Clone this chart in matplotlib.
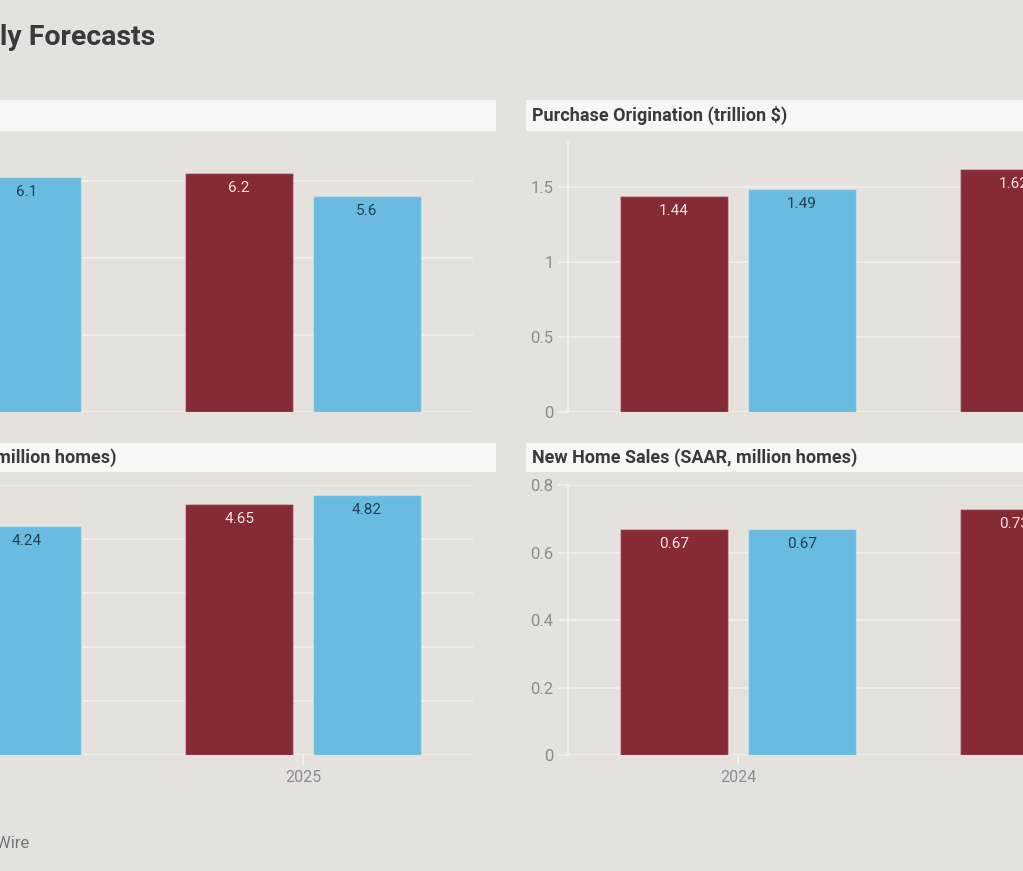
import numpy as np
import matplotlib
matplotlib.use("Agg")
import matplotlib.pyplot as plt
from matplotlib.patches import Rectangle

plt.rcParams["font.family"] = ["Roboto", "DejaVu Sans"]

# data (bars that fall outside the cropped view are left as nan)
years = [2024, 2025]
rate_red = [np.nan, 6.2]
rate_blue = [6.1, 5.6]
purch_red = [1.44, 1.62]
purch_blue = [1.49, np.nan]
exist_red = [np.nan, 4.65]
exist_blue = [4.24, 4.82]
new_red = [0.67, 0.73]
new_blue = [0.67, np.nan]

RED = "#862a36"
BLUE = "#6abbe0"
BG = "#e5e2dd"
STRIP = "#f8f7f3"
GRID = "#f2f0ec"

W, H = 1023, 871
fig = plt.figure(figsize=(W / 100, H / 100), dpi=100, facecolor=BG)


def box(x0, y0, x1, y1):
    return [x0 / W, 1 - y1 / H, (x1 - x0) / W, (y1 - y0) / H]


def strip(x0, y0, x1, y1, label=None, ha="left", tx=None):
    fig.patches.append(Rectangle((x0 / W, 1 - y1 / H), (x1 - x0) / W, (y1 - y0) / H,
                                 transform=fig.transFigure, facecolor=STRIP, edgecolor="none"))
    if label:
        fig.text(tx / W, 1 - (y0 + y1) / 2 / H, label, ha=ha, va="center",
                 fontsize=13, fontweight="bold", color="#3a3a3a")


def panel(rect, xlim, ylim, yticks, red, blue, show_y, show_x):
    ax = fig.add_axes(rect)
    ax.set_facecolor(BG)
    x = np.arange(len(years))
    off, bw = 0.188, 0.32
    b1 = ax.bar(x - off, red, bw, color=RED, edgecolor=(1, 1, 1, 0.3), linewidth=1, zorder=3)
    b2 = ax.bar(x + off, blue, bw, color=BLUE, edgecolor=(1, 1, 1, 0.3), linewidth=1, zorder=3)
    for bars, vals, col in [(b1, red, "#f6e4e4"), (b2, blue, "#1f3f55")]:
        for rect_, v in zip(bars, vals):
            if np.isnan(v):
                continue
            ax.annotate(f"{v:g}", (rect_.get_x() + rect_.get_width() / 2, v),
                        xytext=(0, -11), textcoords="offset points", ha="center", va="center",
                        fontsize=11, color=col, zorder=4, annotation_clip=False)
    ax.set_yticks(yticks)
    ax.set_yticklabels([f"{t:g}" for t in yticks])
    ax.set_xticks(x)
    ax.set_xticklabels([str(y) for y in years])
    # limits after ticks, otherwise set_xticks widens the view
    ax.set_xlim(*xlim)
    ax.set_ylim(*ylim)
    ax.grid(axis="y", color=GRID, linewidth=1.3, zorder=0)
    ax.set_axisbelow(True)
    for s in ["top", "right", "bottom"]:
        ax.spines[s].set_visible(False)
    ax.spines["left"].set_color(GRID)
    ax.spines["left"].set_linewidth(1.3)
    ax.spines["left"].set_visible(show_y)
    ax.tick_params(axis="y", length=7, width=1.3, color=GRID, pad=3.5,
                   labelsize=12, labelcolor="#8c8c8c", labelleft=show_y)
    ax.tick_params(axis="x", length=7, width=1.3, color=GRID, pad=4,
                   labelsize=11.5, labelcolor="#8c8c8c",
                   labelbottom=show_x, bottom=show_x)
    return ax


# the view is cropped: left panels run off the left edge, right panels off the right edge
lx = (-0.5 + 207 / 340, 1.5)
rx = (-0.5, -0.5 + 455 / 340)

panel(box(0, 142, 473, 412), lx, (0, 7), [0, 2, 4, 6], rate_red, rate_blue, False, False)
panel(box(568, 142, 1023, 412), rx, (0, 1.8), [0, 0.5, 1, 1.5], purch_red, purch_blue, True, False)
panel(box(0, 485, 473, 755), lx, (0, 5), [0, 1, 2, 3, 4, 5], exist_red, exist_blue, False, True)
panel(box(568, 485, 1023, 755), rx, (0, 0.8), [0, 0.2, 0.4, 0.6, 0.8], new_red, new_blue, True, True)

strip(0, 100, 496, 131)
strip(526, 100, 1023, 131, "Purchase Origination (trillion $)", tx=532)
strip(0, 443, 496, 472, "Existing Home Sales (SAAR, million homes)", ha="right", tx=117)
strip(526, 443, 1023, 472, "New Home Sales (SAAR, million homes)", tx=532)

fig.text(155 / W, 1 - 45 / H, "Yearly Forecasts", ha="right", va="baseline",
         fontsize=20.5, fontweight="bold", color="#3a3a3a")
fig.text(29 / W, 1 - 843 / H, "Source: Fannie Mae, MBA. Chart: HousingWire", ha="right", va="center",
         fontsize=12, color="#777777")

fig.savefig("out.png", dpi=100, facecolor=BG)
